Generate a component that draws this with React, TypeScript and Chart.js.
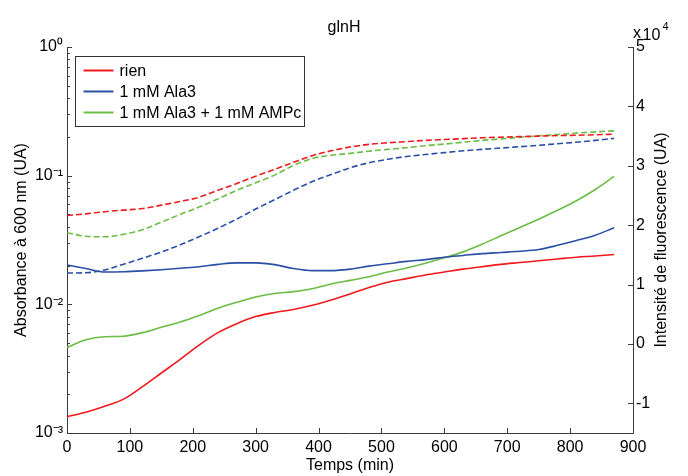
import React, { useEffect, useRef } from "react";
import { Chart, registerables } from "chart.js";

Chart.register(...registerables);

// ---- data ----
const times = [0, 30, 60, 90, 120, 150, 180, 210, 240, 270, 300, 330, 360, 390, 420, 450, 480, 510, 540, 570, 600, 630, 660, 690, 720, 750, 780, 810, 840, 870];

// Absorbance at 600 nm (left, log axis) – dashed
const absRien = [0.049, 0.0505, 0.0525, 0.054, 0.0555, 0.059, 0.063, 0.068, 0.077, 0.087, 0.099, 0.112, 0.127, 0.143, 0.156, 0.167, 0.175, 0.180, 0.184, 0.188, 0.191, 0.194, 0.197, 0.199, 0.201, 0.203, 0.205, 0.206, 0.208, 0.210];
const absAla3 = [0.0175, 0.0176, 0.0185, 0.0205, 0.0228, 0.0255, 0.029, 0.0335, 0.039, 0.046, 0.055, 0.065, 0.077, 0.090, 0.102, 0.115, 0.126, 0.134, 0.141, 0.146, 0.151, 0.156, 0.160, 0.164, 0.168, 0.172, 0.177, 0.182, 0.188, 0.195];
const absAla3Ampc = [0.036, 0.0338, 0.0335, 0.035, 0.038, 0.0435, 0.050, 0.057, 0.066, 0.077, 0.088, 0.101, 0.120, 0.136, 0.144, 0.149, 0.155, 0.160, 0.165, 0.171, 0.176, 0.182, 0.188, 0.193, 0.199, 0.204, 0.209, 0.214, 0.219, 0.223];

// Fluorescence intensity (right axis, UA) – solid
const fluoRien = [-12250, -11500, -10500, -9300, -7200, -4900, -2600, -200, 1900, 3400, 4600, 5300, 5800, 6500, 7400, 8400, 9500, 10400, 11000, 11600, 12100, 12600, 13000, 13400, 13700, 14000, 14300, 14600, 14800, 15050];
const fluoAla3 = [13300, 12700, 12100, 12150, 12300, 12500, 12750, 13000, 13400, 13650, 13650, 13350, 12700, 12350, 12350, 12600, 13100, 13500, 13900, 14200, 14600, 14900, 15200, 15400, 15600, 15900, 16600, 17400, 18300, 19550];
const fluoAla3Ampc = [-600, 700, 1200, 1300, 1900, 2800, 3700, 4800, 6000, 7000, 7900, 8500, 8800, 9300, 10100, 10700, 11300, 12100, 12800, 13600, 14500, 15500, 16800, 18200, 19600, 21000, 22500, 24100, 26000, 28200];

const seriesLabels = ["rien", "1 mM Ala3", "1 mM Ala3 + 1 mM AMPc"];
const seriesColors = ["#f0191e", "#2a4fa6", "#6cbd45"];

const titleText = "glnH";
const xTitle = "Temps (min)";
const leftTitle = "Absorbance à 600 nm (UA)";
const rightTitle = "Intensité de fluorescence (UA)";

const xTicks = [0, 100, 200, 300, 400, 500, 600, 700, 800, 900];
const leftDecades = [-3, -2, -1, 0];
const rightTicks = [-1, 0, 1, 2, 3, 4, 5];
const rightScaleExp = 4;

const FONT = "'Liberation Sans', Arial, Helvetica, sans-serif";
const AXIS_COLOR = "#3c3c3c";

const SUP: Record<string, string> = { "-": "\u207B", "0": "\u2070", "1": "\u00B9", "2": "\u00B2", "3": "\u00B3", "4": "\u2074" };
const sup = (n: number) => String(n).split("").map((c) => SUP[c] || c).join("");

const matlabPlugin = {
  id: "matlabDecor",
  afterDraw(chart: any) {
    const { ctx, chartArea, scales } = chart;
    const x = scales.x, y = scales.y, y1 = scales.y1;
    ctx.save();
    ctx.strokeStyle = AXIS_COLOR;
    ctx.lineWidth = 1;
    ctx.beginPath();
    // x ticks (inward)
    xTicks.forEach((v) => {
      const px = Math.round(x.getPixelForValue(v)) + 0.5;
      ctx.moveTo(px, chartArea.bottom);
      ctx.lineTo(px, chartArea.bottom - 5);
    });
    // left log ticks (inward)
    leftDecades.forEach((d) => {
      for (let m = 1; m <= 9; m++) {
        const v = m * Math.pow(10, d);
        if (v > 1.0000001) break;
        const py = Math.round(y.getPixelForValue(v)) + 0.5;
        const len = m === 1 ? 5 : 3;
        ctx.moveTo(chartArea.left, py);
        ctx.lineTo(chartArea.left + len, py);
      }
    });
    // right ticks (inward)
    rightTicks.forEach((v) => {
      const py = Math.round(y1.getPixelForValue(v * Math.pow(10, rightScaleExp))) + 0.5;
      ctx.moveTo(chartArea.right, py);
      ctx.lineTo(chartArea.right - 5, py);
    });
    ctx.stroke();

    // x 10^4 multiplier
    ctx.fillStyle = "#000";
    ctx.textBaseline = "alphabetic";
    ctx.textAlign = "left";
    ctx.font = `16px ${FONT}`;
    ctx.fillText("x", chartArea.right, 38);
    ctx.fillText("10", chartArea.right + 9.5, 40);
    ctx.font = `11px ${FONT}`;
    ctx.fillText(String(rightScaleExp), chartArea.right + 29.5, 30);

    // right axis title, reading bottom to top
    ctx.save();
    ctx.font = `16px ${FONT}`;
    ctx.textAlign = "center";
    ctx.textBaseline = "middle";
    ctx.translate(chart.width - 26.5, (chartArea.top + chartArea.bottom) / 2);
    ctx.rotate(-Math.PI / 2);
    ctx.fillText(rightTitle, 0, 0);
    ctx.restore();

    // legend box
    const bx = chartArea.left + 8.5, by = chartArea.top + 9.5, bw = 229, bh = 70;
    ctx.fillStyle = "#ffffff";
    ctx.fillRect(bx, by, bw, bh);
    ctx.strokeStyle = "#333333";
    ctx.lineWidth = 1;
    ctx.strokeRect(bx, by, bw, bh);
    ctx.font = `16px ${FONT}`;
    ctx.textBaseline = "middle";
    ctx.textAlign = "left";
    seriesLabels.forEach((lab, i) => {
      const ly = by + 14 + i * 21;
      ctx.strokeStyle = seriesColors[i];
      ctx.lineWidth = 2;
      ctx.beginPath();
      ctx.moveTo(bx + 8, ly);
      ctx.lineTo(bx + 38, ly);
      ctx.stroke();
      ctx.fillStyle = "#000";
      ctx.fillText(lab, bx + 44, ly + 1);
    });
    ctx.restore();
  },
};

export default function App() {
  const ref = useRef<HTMLCanvasElement | null>(null);
  useEffect(() => {
    if (!ref.current) return;
    Chart.defaults.font.family = FONT;
    const mk = (label: string, data: number[], color: string, axis: string, dashed: boolean) => ({
      label,
      data: times.map((t, i) => ({ x: t, y: data[i] })),
      borderColor: color,
      backgroundColor: color,
      borderWidth: 1.6,
      borderDash: dashed ? [6, 3] : [],
      pointRadius: 0,
      fill: false,
      cubicInterpolationMode: "monotone" as const,
      yAxisID: axis,
    });
    const chart = new Chart(ref.current, {
      type: "line",
      data: {
        datasets: [
          mk(seriesLabels[0], absRien, seriesColors[0], "y", true),
          mk(seriesLabels[1], absAla3, seriesColors[1], "y", true),
          mk(seriesLabels[2], absAla3Ampc, seriesColors[2], "y", true),
          mk(seriesLabels[0], fluoRien, seriesColors[0], "y1", false),
          mk(seriesLabels[1], fluoAla3, seriesColors[1], "y1", false),
          mk(seriesLabels[2], fluoAla3Ampc, seriesColors[2], "y1", false),
        ],
      },
      options: {
        responsive: false,
        maintainAspectRatio: false,
        animation: false,
        layout: { padding: 0 },
        plugins: {
          legend: { display: false },
          tooltip: { enabled: false },
          title: {
            display: true,
            text: titleText,
            color: "#000",
            font: { size: 16, weight: "normal" as const, family: FONT },
            padding: { top: 18, bottom: 9.8 },
          },
        },
        scales: {
          x: {
            type: "linear",
            min: 0,
            max: 900,
            afterBuildTicks: (s: any) => { s.ticks = xTicks.map((v) => ({ value: v })); },
            afterFit: (s: any) => { s.height = 43; },
            ticks: { color: "#000", font: { size: 16 }, padding: 5, autoSkip: false, maxRotation: 0 },
            grid: { display: false, drawTicks: false },
            border: { display: true, color: AXIS_COLOR, width: 1 },
            title: { display: true, text: xTitle, color: "#000", font: { size: 16 }, padding: { top: 0, bottom: 1 } },
          },
          y: {
            type: "logarithmic",
            position: "left",
            min: 0.001,
            max: 1,
            afterBuildTicks: (s: any) => {
              const t: any[] = [];
              leftDecades.forEach((d) => {
                for (let m = 1; m <= 9; m++) {
                  const v = m * Math.pow(10, d);
                  if (v > 1.0000001) break;
                  t.push({ value: v, major: m === 1 });
                }
              });
              s.ticks = t;
            },
            afterFit: (s: any) => { s.width = 67; },
            ticks: {
              color: "#000",
              font: { size: 16 },
              padding: 4,
              autoSkip: false,
              callback: (v: any) => {
                const e = Math.log10(Number(v));
                return Math.abs(e - Math.round(e)) < 1e-6 ? "10" + sup(Math.round(e)) : "";
              },
            },
            grid: { display: false, drawTicks: false },
            border: { display: true, color: AXIS_COLOR, width: 1 },
            title: { display: true, text: leftTitle, color: "#000", font: { size: 16 }, padding: { top: 12, bottom: 0 } },
          },
          y1: {
            type: "linear",
            position: "right",
            min: -15000,
            max: 50000,
            afterBuildTicks: (s: any) => { s.ticks = rightTicks.map((v) => ({ value: v * Math.pow(10, rightScaleExp) })); },
            afterFit: (s: any) => { s.width = 55; },
            ticks: {
              color: "#000",
              font: { size: 16 },
              padding: 3,
              autoSkip: false,
              callback: (v: any) => String(Math.round(Number(v) / Math.pow(10, rightScaleExp))),
            },
            grid: { display: false, drawTicks: false },
            border: { display: true, color: AXIS_COLOR, width: 1 },
            title: { display: false },
          },
        },
      },
      plugins: [matlabPlugin],
    } as any);
    return () => chart.destroy();
  }, []);
  return (
    <div style={{ position: "fixed", left: 0, top: 0, width: 688, height: 476, background: "#fff" }}>
      <canvas ref={ref} width={688} height={476} style={{ width: 688, height: 476, display: "block" }} />
    </div>
  );
}
